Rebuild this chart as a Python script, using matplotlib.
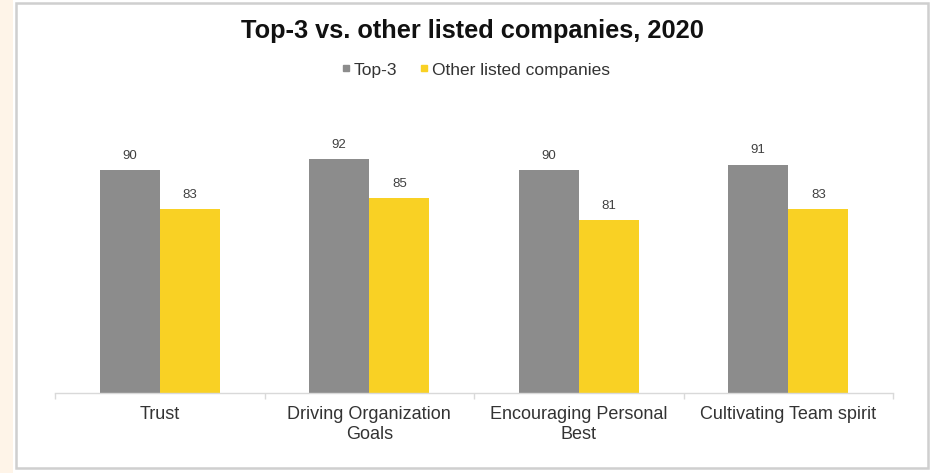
import matplotlib
matplotlib.use("Agg")
import matplotlib.pyplot as plt
from matplotlib.lines import Line2D
from matplotlib.patches import Rectangle
import numpy as np

plt.rcParams['font.family'] = ['Liberation Sans', 'DejaVu Sans']

# Data
categories = ["Trust", "Driving Organization\nGoals", "Encouraging Personal\nBest", "Cultivating Team spirit"]
series_names = ["Top-3", "Other listed companies"]
top3 = [90, 92, 90, 91]
others = [83, 85, 81, 83]

GRAY = "#8C8C8C"
YELLOW = "#F9D124"
TEXT = "#333333"

W, H = 941, 473
fig = plt.figure(figsize=(W / 100, H / 100), dpi=100, facecolor="white")

# Page strip on the left and the frame around the chart
fig.patches.append(Rectangle((0, 0), 13 / W, 1, transform=fig.transFigure,
                             facecolor="#FEF4E8", edgecolor="none", zorder=-2))
fig.patches.append(Rectangle((16 / W, 5 / H), (928 - 16) / W, (470 - 5) / H,
                             transform=fig.transFigure, facecolor="none",
                             edgecolor="#CFCFCF", linewidth=1.8, zorder=-1))

ax = fig.add_axes([55 / W, (H - 393) / H, (893 - 55) / W, (393 - 114.5) / H])
ax.set_facecolor("none")

x = np.arange(len(categories))
bw = 0.287
b1 = ax.bar(x - bw / 2, top3, bw, color=GRAY, label=series_names[0], zorder=2)
b2 = ax.bar(x + bw / 2, others, bw, color=YELLOW, label=series_names[1], zorder=2)

for bars in (b1, b2):
    for rect in bars:
        v = rect.get_height()
        ax.annotate(f"{v:g}", (rect.get_x() + rect.get_width() / 2, v),
                    xytext=(0, 6), textcoords="offset points",
                    ha="center", va="bottom", fontsize=9.5, color="#404040")

ax.set_xlim(-0.5, len(categories) - 0.5)
ax.set_ylim(50, 100)

for s in ("left", "right", "top"):
    ax.spines[s].set_visible(False)
ax.spines["bottom"].set_color("#D9D9D9")
ax.spines["bottom"].set_linewidth(1.0)

ax.set_yticks([])
ax.set_xticks(x)
ax.set_xticklabels(categories, fontsize=13, color=TEXT, linespacing=1.3)
for lbl in ax.get_xticklabels():
    lbl.set_multialignment("center")
ax.tick_params(axis="x", which="major", length=0, pad=9)
ax.set_xticks(np.arange(-0.5, len(categories)), minor=True)
ax.tick_params(axis="x", which="minor", length=4, color="#D9D9D9", width=1)

fig.text(472 / W, 1 - 31 / H, "Top-3 vs. other listed companies, 2020",
         ha="center", va="center", fontsize=18.3, fontweight="bold", color="#111111")

handles = [Line2D([], [], marker="s", linestyle="none", markersize=5,
                  markerfacecolor=c, markeredgecolor=c)
           for c in (GRAY, YELLOW)]
fig.legend(handles, series_names, loc="center", bbox_to_anchor=(476 / W, 1 - 70 / H),
           ncol=2, frameon=False, fontsize=12.5, handlelength=0.5,
           handletextpad=0.2, columnspacing=1.3, labelcolor=TEXT)

fig.savefig("out.png", dpi=100, facecolor="white")
